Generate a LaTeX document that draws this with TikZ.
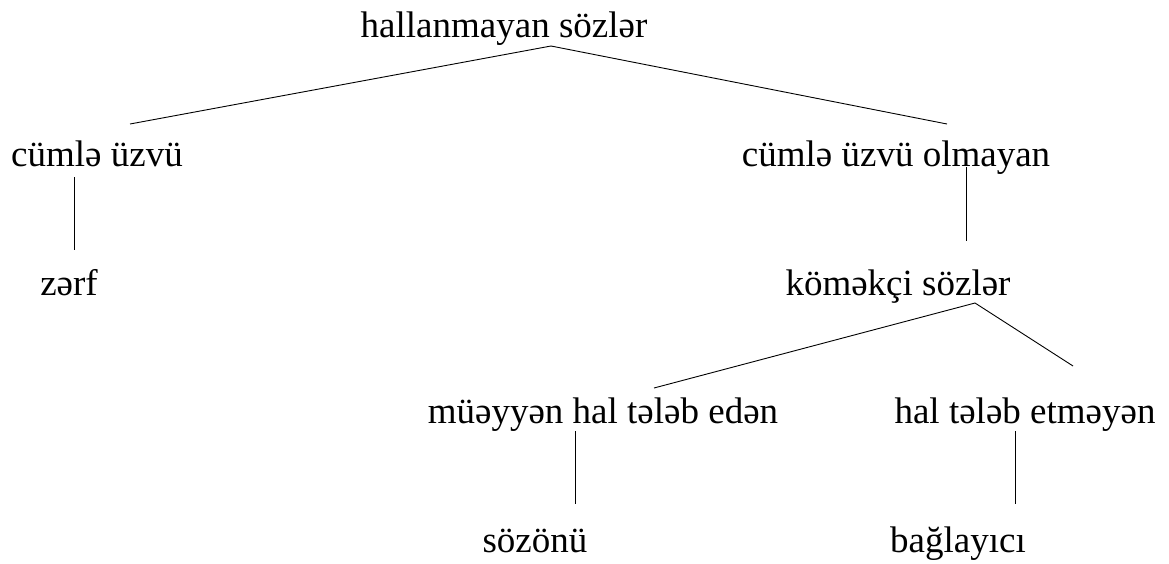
\documentclass[tikz,border=0pt]{standalone}
\usepackage{fontspec}
\setmainfont{Liberation Serif}
\begin{document}
\begin{tikzpicture}[x=1pt,y=-1pt,
  lbl/.style={anchor=base,inner sep=0pt,font=\fontsize{37}{42}\selectfont},
  conn/.style={line width=0.9pt,black}]
\useasboundingbox (0,0) rectangle (1169,563);
\node[lbl] (root) at (504,37) {hallanmayan sözlər};
\node[lbl] (cu) at (97,166) {cümlə üzvü};
\node[lbl] (cuo) at (896,166) {cümlə üzvü olmayan};
\node[lbl] (zerf) at (69,295) {zərf};
\node[lbl] (kom) at (898,295) {köməkçi sözlər};
\node[lbl] (mue) at (603,423) {müəyyən hal tələb edən};
\node[lbl] (hal) at (1025,423) {hal tələb etməyən};
\node[lbl] (soz) at (535,552) {sözönü};
\node[lbl] (bag) at (958,552) {bağlayıcı};
% connector ends
\coordinate (rootS) at (551,46);
\coordinate (cuN) at (130,124);
\coordinate (cuoN) at (947,124);
\coordinate (cuS) at (74,177);
\coordinate (zerfN) at (74,250);
\coordinate (cuoS) at (966,167);
\coordinate (komN) at (966,241);
\coordinate (komS) at (975,303);
\coordinate (mueN) at (654,388);
\coordinate (halN) at (1073,366);
\coordinate (mueS) at (575,431);
\coordinate (sozN) at (575,504);
\coordinate (halS) at (1015,431);
\coordinate (bagN) at (1015,504);
\draw[conn] (rootS) -- (cuN);
\draw[conn] (rootS) -- (cuoN);
\draw[conn] (cuS) -- (zerfN);
\draw[conn] (cuoS) -- (komN);
\draw[conn] (komS) -- (mueN);
\draw[conn] (komS) -- (halN);
\draw[conn] (mueS) -- (sozN);
\draw[conn] (halS) -- (bagN);
\end{tikzpicture}
\end{document}
